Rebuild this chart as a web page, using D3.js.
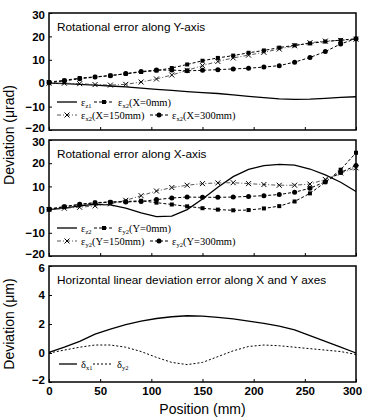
<!DOCTYPE html>
<html>
<head>
<meta charset="utf-8">
<script src="https://cdn.jsdelivr.net/npm/d3@7"></script>
<style>
  body { margin: 0; background: #fff; }
  text { font-family: "Liberation Sans", Arial, sans-serif; fill: #000; }
  .tick text { font-size: 11.5px; font-weight: bold; }
  .tick line { stroke: #000; }
</style>
</head>
<body>
<div class="chart"></div>
<script>
// positions along the axis (mm)
const positions = [0, 15, 30, 45, 60, 75, 90, 105, 120, 135, 150, 165, 180, 195, 210, 225, 240, 255, 270, 285, 300];
const xTicks = [0, 50, 100, 150, 200, 250, 300];

// panel 1: rotational error along Y-axis (urad)
const epsZ1 = [0, -0.2, -0.5, -0.8, -1.2, -1.6, -2.1, -2.6, -3.1, -3.6, -4.0, -4.4, -5.0, -5.6, -6.2, -6.7, -6.9, -6.8, -6.5, -6.1, -5.8];
const epsX2at0 = [0.5, 1.2, 2.2, 2.7, 3.3, 4.0, 4.8, 5.4, 6.5, 8.0, 9.6, 10.8, 11.8, 13.0, 14.0, 15.2, 16.2, 17.0, 17.8, 18.4, 19.0];
const epsX2at150 = [0, 0, -0.2, -0.6, -0.8, -0.5, 0.5, 1.8, 3.5, 5.5, 7.5, 9.3, 10.8, 12.0, 13.2, 14.6, 16.0, 17.3, 18.0, 18.3, 18.8];
const epsX2at300 = [0.2, 1.0, 1.9, 2.6, 3.2, 4.1, 5.0, 5.6, 5.6, 5.3, 5.5, 5.8, 6.1, 6.4, 6.9, 7.5, 9.0, 11.0, 13.5, 16.8, 19.0];

// panel 2: rotational error along X-axis (urad)
const epsZ2 = [0, 0.6, 1.6, 2.3, 2.0, 0.6, -1.4, -3.0, -2.8, 0.0, 4.6, 9.6, 14.2, 17.3, 19.0, 19.5, 19.2, 17.5, 15.0, 11.8, 7.8];
const epsY2at0 = [0.3, 1.3, 2.2, 3.0, 3.3, 3.5, 3.8, 3.0, 2.2, 1.4, 0.6, 0.0, -0.3, -0.2, 0.5, 1.5, 3.5, 7.0, 11.8, 17.2, 24.5];
const epsY2at150 = [0, 0.6, 1.0, 1.6, 2.5, 4.0, 6.0, 8.0, 9.5, 10.5, 11.2, 11.5, 11.6, 11.2, 10.8, 10.5, 10.5, 11.0, 13.0, 15.8, 18.0];
const epsY2at300 = [0, 1.2, 2.3, 2.9, 3.2, 3.3, 3.5, 4.3, 5.0, 5.4, 5.3, 5.3, 5.4, 5.7, 6.0, 6.5, 7.5, 9.2, 12.0, 16.0, 19.0];

// panel 3: horizontal linear deviation (um)
const deltaX1 = [0.05, 0.4, 0.8, 1.3, 1.65, 1.95, 2.2, 2.38, 2.5, 2.57, 2.55, 2.45, 2.35, 2.2, 2.05, 1.85, 1.6, 1.2, 0.8, 0.4, 0.0];
const deltaY2 = [0, 0.2, 0.4, 0.55, 0.55, 0.4, 0.1, -0.3, -0.65, -0.8, -0.65, -0.25, 0.15, 0.45, 0.55, 0.5, 0.4, 0.3, 0.2, 0.1, -0.1];

const WIDTH = 365, HEIGHT = 417;
const LEFT = 49, RIGHT = 356;

const svg = d3.select('.chart').append('svg')
  .attr('width', WIDTH)
  .attr('height', HEIGHT);

const x = d3.scaleLinear().domain([0, 300]).range([LEFT, RIGHT]);

const styles = {
  solid: {dash: null, stroke: '#000', width: 1.3},
  square: {dash: '3,2', stroke: '#000', width: 1},
  circle: {dash: '3,2', stroke: '#000', width: 1},
  cross: {dash: '4,2,1,2', stroke: '#444', width: 0.9},
  dotted: {dash: '2,2', stroke: '#000', width: 1}
};

function drawMarker(g, kind, cx, cy) {
  if (kind === 'square') {
    g.append('rect').attr('x', cx - 2).attr('y', cy - 2).attr('width', 4).attr('height', 4).attr('fill', '#000');
  } else if (kind === 'circle') {
    g.append('circle').attr('cx', cx).attr('cy', cy).attr('r', 2.5).attr('fill', '#000');
  } else if (kind === 'cross') {
    g.append('path').attr('d', `M${cx - 2.5},${cy - 2.5}L${cx + 2.5},${cy + 2.5}M${cx - 2.5},${cy + 2.5}L${cx + 2.5},${cy - 2.5}`)
      .attr('stroke', '#000').attr('stroke-width', 1);
  }
}

function drawPanel(p) {
  const y = d3.scaleLinear().domain(p.domain).range([p.bottom, p.top]);
  const g = svg.append('g').attr('class', 'panel');

  const yAxis = g.append('g')
    .attr('transform', `translate(${LEFT},0)`)
    .call(d3.axisLeft(y).tickValues(p.yTicks).tickSize(-3).tickPadding(4))
    .call(a => a.select('.domain').remove());
  // labels at the shared panel edges are squeezed apart a little, as in the print
  yAxis.selectAll('.tick text')
    .attr('dy', d => d === p.domain[0] ? '0.1em' : d === p.domain[1] ? '0.45em' : '0.32em');

  g.append('g')
    .attr('transform', `translate(0,${p.bottom})`)
    .call(d3.axisBottom(x).tickValues(xTicks).tickSize(-3).tickPadding(5)
      .tickFormat(p.showX ? d3.format('d') : ''))
    .call(a => a.select('.domain').remove())
    .selectAll('.tick text')
    .attr('dx', d => d === 300 ? -4 : 0);

  const line = d3.line().x((d, i) => x(positions[i])).y(d => y(d));

  p.series.forEach(s => {
    const st = styles[s.kind];
    g.append('path')
      .attr('d', line(s.values))
      .attr('fill', 'none')
      .attr('stroke', st.stroke)
      .attr('stroke-width', st.width)
      .attr('stroke-dasharray', st.dash);
    s.values.forEach((v, i) => drawMarker(g, s.kind, x(positions[i]), y(v)));
  });

  g.append('rect')
    .attr('x', LEFT).attr('y', p.top)
    .attr('width', RIGHT - LEFT).attr('height', p.bottom - p.top)
    .attr('fill', 'none').attr('stroke', '#000').attr('stroke-width', 1.5);

  g.append('text')
    .attr('x', 57).attr('y', p.titleY)
    .attr('font-size', 11.8)
    .text(p.title);

  // legend
  p.legend.forEach(l => {
    const st = styles[l.kind];
    g.append('line')
      .attr('x1', l.x).attr('x2', l.x + l.len)
      .attr('y1', l.y).attr('y2', l.y)
      .attr('stroke', st.stroke).attr('stroke-width', st.width)
      .attr('stroke-dasharray', st.dash);
    drawMarker(g, l.kind, l.x + l.len / 2, l.y);
    const t = g.append('text')
      .attr('x', l.x + l.len + 4).attr('y', l.y + 3.5)
      .style('font-family', '"Liberation Serif", serif')
      .attr('font-size', 10.5);
    t.append('tspan').text(l.sym);
    t.append('tspan').attr('font-size', 6.5).attr('dy', 2).text(l.sub);
    if (l.note) t.append('tspan').attr('dy', -2).text(l.note);
  });
}

drawPanel({
  top: 13, bottom: 130, domain: [-20, 30], yTicks: [-20, -10, 0, 10, 20, 30], showX: false,
  title: 'Rotational error along Y-axis', titleY: 31,
  series: [
    {kind: 'solid', values: epsZ1},
    {kind: 'cross', values: epsX2at150},
    {kind: 'square', values: epsX2at0},
    {kind: 'circle', values: epsX2at300}
  ],
  legend: [
    {kind: 'solid', x: 57, len: 20, y: 102, sym: 'ε', sub: 'z1'},
    {kind: 'square', x: 94, len: 20, y: 102, sym: 'ε', sub: 'x2', note: '(X=0mm)'},
    {kind: 'cross', x: 57, len: 20, y: 115, sym: 'ε', sub: 'x2', note: '(X=150mm)'},
    {kind: 'circle', x: 150, len: 18, y: 115, sym: 'ε', sub: 'x2', note: '(X=300mm)'}
  ]
});

drawPanel({
  top: 140, bottom: 256, domain: [-20, 30], yTicks: [-20, -10, 0, 10, 20, 30], showX: false,
  title: 'Rotational error along X-axis', titleY: 158,
  series: [
    {kind: 'solid', values: epsZ2},
    {kind: 'cross', values: epsY2at150},
    {kind: 'square', values: epsY2at0},
    {kind: 'circle', values: epsY2at300}
  ],
  legend: [
    {kind: 'solid', x: 57, len: 20, y: 228, sym: 'ε', sub: 'z2'},
    {kind: 'square', x: 94, len: 20, y: 228, sym: 'ε', sub: 'y2', note: '(Y=0mm)'},
    {kind: 'cross', x: 57, len: 20, y: 241, sym: 'ε', sub: 'y2', note: '(Y=150mm)'},
    {kind: 'circle', x: 150, len: 18, y: 241, sym: 'ε', sub: 'y2', note: '(Y=300mm)'}
  ]
});

drawPanel({
  top: 266, bottom: 382, domain: [-2, 6], yTicks: [-2, 0, 2, 4, 6], showX: true,
  title: 'Horizontal linear deviation error along X and Y axes', titleY: 284,
  series: [
    {kind: 'solid', values: deltaX1},
    {kind: 'dotted', values: deltaY2}
  ],
  legend: [
    {kind: 'solid', x: 59, len: 18, y: 364, sym: 'δ', sub: 'x1'},
    {kind: 'dotted', x: 93, len: 20, y: 364, sym: 'δ', sub: 'y2'}
  ]
});

// axis titles
svg.append('text')
  .attr('transform', 'translate(14,135) rotate(-90)')
  .attr('text-anchor', 'middle')
  .attr('font-size', 14)
  .text('Deviation (μrad)');

svg.append('text')
  .attr('transform', 'translate(14,324) rotate(-90)')
  .attr('text-anchor', 'middle')
  .attr('font-size', 14)
  .text('Deviation (μm)');

svg.append('text')
  .attr('x', (LEFT + RIGHT) / 2).attr('y', 414)
  .attr('text-anchor', 'middle')
  .attr('font-size', 14)
  .text('Position (mm)');
</script>
</body>
</html>
